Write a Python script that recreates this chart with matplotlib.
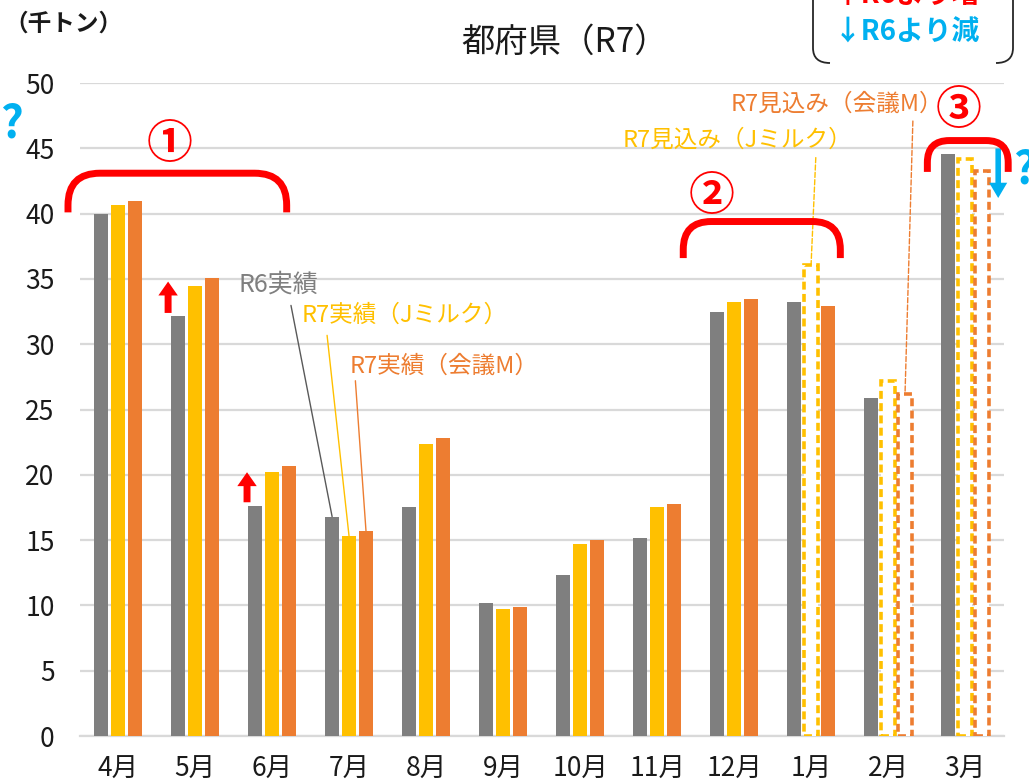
import matplotlib
matplotlib.use('Agg')
import matplotlib.pyplot as plt
from matplotlib.path import Path
from matplotlib.patches import PathPatch
import numpy as np

plt.rcParams['font.family'] = ['Noto Sans CJK JP', 'DejaVu Sans']

months = ['4月', '5月', '6月', '7月', '8月', '9月', '10月', '11月', '12月', '1月', '2月', '3月']
r6_actual = [40.0, 32.2, 17.6, 16.8, 17.5, 10.2, 12.3, 15.2, 32.5, 33.2, 25.9, 44.6]
r7_jmilk = [40.7, 34.5, 20.2, 15.3, 22.4, 9.7, 14.7, 17.5, 33.2, 36.1, 27.2, 44.2]
r7_kaigi = [41.0, 35.1, 20.7, 15.7, 22.8, 9.9, 15.0, 17.8, 33.5, 32.9, 26.2, 43.3]
# index from which each R7 series is a forecast (見込み) instead of an actual
jmilk_forecast_from = 9
kaigi_forecast_from = 10

GRAY = '#7f7f7f'
YELLOW = '#ffc000'
ORANGE = '#ed7d31'
RED = '#ff0000'
BLUE = '#00b0f0'

fig = plt.figure(figsize=(10.29, 7.81), dpi=100)
ax = fig.add_axes([0.0773, 0.0576, 0.898, 0.836])

x = np.arange(len(months))
off = 0.22
w = 0.18

ax.bar(x - off, r6_actual, w, color=GRAY, zorder=3)

series = [(r7_jmilk, jmilk_forecast_from, YELLOW, 0.0),
          (r7_kaigi, kaigi_forecast_from, ORANGE, off)]
for vals, fc_from, col, dx in series:
    vals = np.array(vals)
    ax.bar(x[:fc_from] + dx, vals[:fc_from], w, color=col, zorder=3)
    ax.bar(x[fc_from:] + dx, vals[fc_from:], w, facecolor='white', edgecolor=col,
           linestyle=(0, (2.2, 1.2)), linewidth=2.6, zorder=3)

ax.set_xlim(-0.5, len(months) - 0.5)
ax.set_ylim(0, 50)
ax.set_yticks(np.arange(0, 51, 5))
ax.set_xticks(x)
ax.set_xticklabels(months)
ax.tick_params(axis='both', length=0, labelsize=19, colors='#1a1a1a')
ax.tick_params(axis='y', pad=18)
ax.tick_params(axis='x', pad=14)
ax.grid(axis='y', color='#d9d9d9', linewidth=1.6, zorder=0)
for s in ['top', 'right', 'left']:
    ax.spines[s].set_visible(False)
ax.spines['bottom'].set_color('#d9d9d9')
ax.spines['bottom'].set_linewidth(1.6)

fig.text(0.549, 0.946, '都府県（R7）', fontsize=24, ha='center', va='center', color='#1a1a1a')
fig.text(0.062, 0.970, '（千トン）', fontsize=17, fontweight='bold', ha='center', va='center', color='#1a1a1a')

# series labels with leader lines
ax.annotate('R6実績', xy=(3 - off, r6_actual[3]), xytext=(2.08, 34.6), fontsize=18,
            color=GRAY, ha='center', va='center',
            arrowprops=dict(arrowstyle='-', color='#595959', lw=1, relpos=(0.64, 0), shrinkA=4, shrinkB=0))
ax.annotate('R7実績（Jミルク）', xy=(3, r7_jmilk[3]), xytext=(3.72, 32.2), fontsize=17,
            color=YELLOW, ha='center', va='center',
            arrowprops=dict(arrowstyle='-', color=YELLOW, lw=1, relpos=(0.12, 0), shrinkA=4, shrinkB=0))
ax.annotate('R7実績（会議M）', xy=(3 + off, r7_kaigi[3]), xytext=(4.23, 28.3), fontsize=17,
            color=ORANGE, ha='center', va='center',
            arrowprops=dict(arrowstyle='-', color=ORANGE, lw=1, relpos=(0.03, 0.15), shrinkA=0, shrinkB=0))
ax.annotate('R7見込み（会議M）', xy=(10 + off, r7_kaigi[10]), xytext=(9.33, 48.4), fontsize=17,
            color=ORANGE, ha='center', va='center', annotation_clip=False,
            arrowprops=dict(arrowstyle='-', color=ORANGE, lw=1, ls='--', relpos=(0.86, 0), shrinkA=2, shrinkB=0))
ax.annotate('R7見込み（Jミルク）', xy=(9, r7_jmilk[9]), xytext=(8.05, 45.6), fontsize=17,
            color=YELLOW, ha='center', va='center',
            arrowprops=dict(arrowstyle='-', color=YELLOW, lw=1, ls='--', relpos=(0.84, 0), shrinkA=2, shrinkB=0))

# red brackets with circled numbers (corner radius given in pixels)
PX_X = 77.0     # pixels per category
PX_Y = 13.06    # pixels per thousand tons
brackets = [('①', -0.65, 2.19, 40.1, 43.1, 32, 0.675, 45.25),
            ('②', 7.34, 9.38, 36.6, 39.4, 28, 7.71, 41.3),
            ('③', 10.51, 11.56, 43.2, 45.6, 22, 10.91, 47.9)]
for num, x0, x1, yb, yt, rpx, tx, ty in brackets:
    rh, rv = rpx / PX_X, rpx / PX_Y
    verts = [(x0, yb), (x0, yt - rv), (x0, yt), (x0 + rh, yt),
             (x1 - rh, yt), (x1, yt), (x1, yt - rv), (x1, yb)]
    codes = [Path.MOVETO, Path.LINETO, Path.CURVE3, Path.CURVE3,
             Path.LINETO, Path.CURVE3, Path.CURVE3, Path.LINETO]
    ax.add_patch(PathPatch(Path(verts, codes), facecolor='none', edgecolor=RED,
                           lw=5, capstyle='butt', clip_on=False, zorder=5))
    ax.text(tx, ty, num, fontsize=33, fontweight='bold', color=RED, ha='center', va='center', zorder=5)

# red up arrows (R6より増)
for xi, y0, y1 in [(0.65, 32.4, 34.8), (1.675, 17.9, 20.2)]:
    ax.annotate('', xy=(xi, y1), xytext=(xi, y0),
                arrowprops=dict(facecolor=RED, edgecolor='none', width=5, headwidth=14, headlength=10, shrink=0))
# blue down arrow (R6より減)
ax.annotate('', xy=(11.43, 41.2), xytext=(11.43, 45.0), annotation_clip=False,
            arrowprops=dict(facecolor=BLUE, edgecolor='none', width=4, headwidth=13, headlength=11, shrink=0))

fig.text(0.011, 0.84, '?', fontsize=32, fontweight='bold', color=BLUE, ha='center', va='center')
fig.text(0.996, 0.782, '?', fontsize=32, fontweight='bold', color=BLUE, ha='center', va='center')

# legend note box (top right, cut off by the figure edge)
fig.text(0.881, 1.006, '↑R6より増', fontsize=20, fontweight='bold', color=RED, ha='center', va='center')
fig.text(0.881, 0.958, '↓R6より減', fontsize=20, fontweight='bold', color=BLUE, ha='center', va='center')
W, H = 1029.0, 781.0
def px(p):
    return (p[0] / W, 1 - p[1] / H)
left = Path([px(p) for p in [(813, -5), (813, 48), (813, 63), (830, 63)]],
            [Path.MOVETO, Path.LINETO, Path.CURVE3, Path.CURVE3])
right = Path([px(p) for p in [(1013, -5), (1013, 48), (1013, 63), (996, 63)]],
             [Path.MOVETO, Path.LINETO, Path.CURVE3, Path.CURVE3])
for pth in (left, right):
    fig.add_artist(PathPatch(pth, facecolor='none', edgecolor='#262626', lw=1.3, transform=fig.transFigure))

fig.savefig('out.png', dpi=100)
